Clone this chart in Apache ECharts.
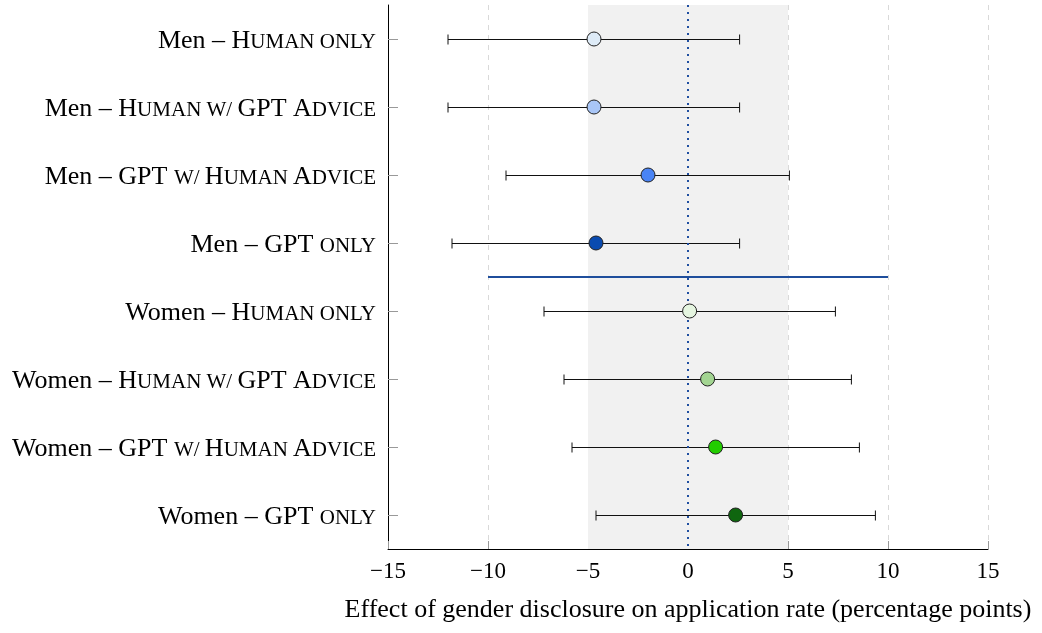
<!DOCTYPE html>
<html>
<head>
<meta charset="utf-8">
<script src="https://cdn.jsdelivr.net/npm/echarts@6/dist/echarts.min.js"></script>
<style>
html,body{margin:0;padding:0;background:#fff;}
#chart{width:1042px;height:633px;}
</style>
</head>
<body>
<div id="chart"></div>
<script>
// Category labels as rich-text (small caps emulated)
const categories = [
  '{r|Men – }{r|H}{s|UMAN ONLY}',
  '{r|Men – }{r|H}{s|UMAN W/ }{r|GPT }{r|A}{s|DVICE}',
  '{r|Men – GPT }{s|W/ }{r|H}{s|UMAN }{r|A}{s|DVICE}',
  '{r|Men – GPT }{s|ONLY}',
  '{r|Women – }{r|H}{s|UMAN ONLY}',
  '{r|Women – }{r|H}{s|UMAN W/ }{r|GPT }{r|A}{s|DVICE}',
  '{r|Women – GPT }{s|W/ }{r|H}{s|UMAN }{r|A}{s|DVICE}',
  '{r|Women – GPT }{s|ONLY}'
];
const estimates = [-4.7, -4.7, -2.0, -4.6, 0.08, 0.98, 1.38, 2.38];
const ciLow     = [-12.0, -12.0, -9.1, -11.8, -7.2, -6.2, -5.8, -4.6];
const ciHigh    = [2.58, 2.58, 5.07, 2.58, 7.37, 8.17, 8.57, 9.37];
const pointColors = ['#deebf7', '#a9c6f7', '#4a84f5', '#0a4bb0', '#e5f5e0', '#a3d592', '#22cc00', '#0f660f'];
const xTicks = [-15, -10, -5, 0, 5, 10, 15];
const bandRange = [-5, 5];
const separatorX = [-10, 10];
const separatorY = 3.5;

const fontFam = '"Liberation Serif", "Times New Roman", serif';

const chart = echarts.init(document.getElementById('chart'), null, {renderer: 'canvas'});

const errData = categories.map((c, i) => [ciLow[i], ciHigh[i], i]);
const ptData = categories.map((c, i) => ({value: [estimates[i], i], itemStyle: {color: pointColors[i]}}));

const option = {
  animation: false,
  backgroundColor: '#fff',
  grid: {left: 388, right: 54, top: 5, bottom: 84, containLabel: false},
  xAxis: {
    type: 'value', min: xTicks[0], max: xTicks[xTicks.length - 1], interval: 5,
    axisLine: {show: true, onZero: false, lineStyle: {color: '#000', width: 1}},
    axisTick: {show: true, inside: true, length: 8, lineStyle: {color: '#999'}},
    axisLabel: {
      margin: 11, color: '#000', fontFamily: fontFam, fontSize: 23,
      formatter: v => (v < 0 ? '\u2212' + Math.abs(v) : String(v))
    },
    splitLine: {show: true, lineStyle: {color: '#d9d9d9', type: [5, 5], width: 1}},
    name: 'Effect of gender disclosure on application rate (percentage points)',
    nameLocation: 'middle', nameGap: 48,
    nameTextStyle: {color: '#000', fontFamily: fontFam, fontSize: 26}
  },
  yAxis: [{
    type: 'category', data: categories, inverse: true, boundaryGap: true,
    axisLine: {show: true, onZero: false, lineStyle: {color: '#000', width: 1}},
    axisTick: {show: true, inside: true, length: 10, alignWithLabel: true, lineStyle: {color: '#999'}},
    axisLabel: {
      margin: 12, color: '#000', fontFamily: fontFam,
      rich: {
        r: {fontFamily: fontFam, fontSize: 26, color: '#000', verticalAlign: 'bottom', lineHeight: 30, padding: [0, 0, 0, 0]},
        s: {fontFamily: fontFam, fontSize: 21, color: '#000', verticalAlign: 'bottom', lineHeight: 30, padding: [0, 0, 1, 0]}
      }
    },
    splitLine: {show: false}
  }, {
    type: 'value', min: -0.5, max: 7.5, inverse: true, show: false
  }],
  series: [
    {
      type: 'custom', name: 'bg', yAxisIndex: 1, z: 1,
      data: [[separatorX[0], separatorX[1], separatorY]],
      renderItem: function (params, api) {
        const p1 = api.coord([api.value(0), api.value(2)]);
        const p2 = api.coord([api.value(1), api.value(2)]);
        return {type: 'line', shape: {x1: p1[0], y1: p1[1], x2: p2[0], y2: p2[1]},
                style: {stroke: '#1f4e9c', lineWidth: 2}};
      },
      markArea: {
        silent: true,
        itemStyle: {color: '#f1f1f1'},
        data: [[{xAxis: bandRange[0], yAxis: -0.5}, {xAxis: bandRange[1], yAxis: 7.5}]]
      },
      markLine: {
        silent: true, symbol: 'none',
        label: {show: false},
        lineStyle: {color: '#1f4ea0', width: 2, type: [2, 5]},
        data: [[{coord: [0, -0.5]}, {coord: [0, 7.5]}]]
      }
    },
    {
      type: 'custom', name: 'ci', yAxisIndex: 1, z: 3,
      data: errData,
      renderItem: function (params, api) {
        const y = Math.round(api.coord([0, api.value(2)])[1]) + 0.5;
        const x1 = api.coord([api.value(0), 0])[0];
        const x2 = api.coord([api.value(1), 0])[0];
        const h = 5;
        const st = {stroke: '#111', lineWidth: 1};
        return {
          type: 'group',
          children: [
            {type: 'line', shape: {x1: x1, y1: y, x2: x2, y2: y}, style: st},
            {type: 'line', shape: {x1: x1, y1: y - h, x2: x1, y2: y + h}, style: st},
            {type: 'line', shape: {x1: x2, y1: y - h, x2: x2, y2: y + h}, style: st}
          ]
        };
      }
    },
    {
      type: 'scatter', name: 'est', yAxisIndex: 1, z: 5,
      symbol: 'circle', symbolSize: 14,
      itemStyle: {borderColor: '#222', borderWidth: 1, opacity: 1},
      data: ptData
    }
  ]
};
chart.setOption(option);
</script>
</body>
</html>
